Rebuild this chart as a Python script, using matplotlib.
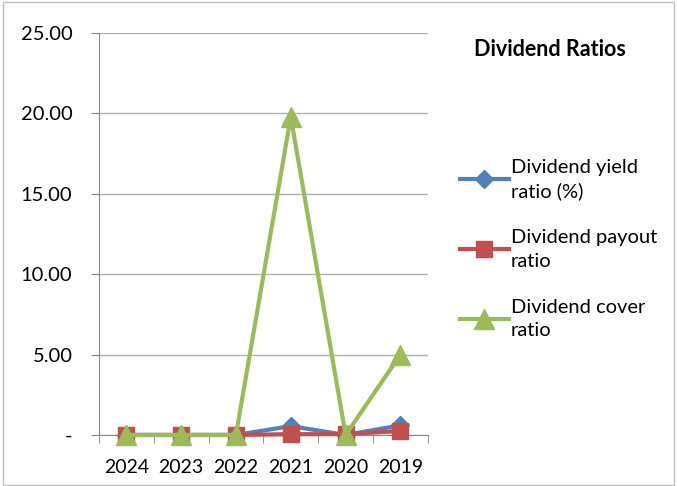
import matplotlib.pyplot as plt
from matplotlib.patches import Rectangle

years = ['2024', '2023', '2022', '2021', '2020', '2019']
yield_ratio = [0.0, 0.0, 0.0, 0.55, 0.0, 0.6]
payout_ratio = [0.0, 0.0, 0.0, 0.05, 0.05, 0.25]
cover_ratio = [0.0, 0.0, 0.0, 19.8, 0.0, 5.0]
y_ticks = [0, 5, 10, 15, 20, 25]
y_labels = ['-', '5.00', '10.00', '15.00', '20.00', '25.00']

plt.rcParams['font.family'] = ['Lato', 'DejaVu Sans']

fig = plt.figure(figsize=(6.77, 4.86), dpi=100)
fig.patches.append(Rectangle((0.004, 0.002), 0.992, 0.994, transform=fig.transFigure,
                             fill=False, edgecolor='#bfbfbf', linewidth=1))
ax = fig.add_axes([0.146, 0.105, 0.486, 0.827])

x = range(len(years))
ax.plot(x, yield_ratio, color='#4F81BD', marker='D', markersize=9, linewidth=3,
        label='Dividend yield\nratio (%)', clip_on=False, zorder=3)
ax.plot(x, payout_ratio, color='#C0504D', marker='s', markersize=11, linewidth=3,
        label='Dividend payout\nratio', clip_on=False, zorder=4)
ax.plot(x, cover_ratio, color='#9BBB59', marker='^', markersize=14, linewidth=3,
        label='Dividend cover\nratio', clip_on=False, zorder=5)

ax.set_xlim(-0.5, 5.5)
ax.set_ylim(0, 25)
ax.set_yticks(y_ticks)
ax.set_yticklabels(y_labels)
ax.set_xticks(list(x))
ax.set_xticklabels(years)
ax.set_xticks([i - 0.5 for i in range(len(years) + 1)], minor=True)
ax.tick_params(axis='x', which='major', length=0, labelsize=14, pad=17)
ax.tick_params(axis='x', which='minor', length=6, color='#868686')
ax.tick_params(axis='y', length=6, color='#868686', labelsize=14.5, pad=13)
ax.yaxis.grid(True, color='#b0b0b0', linewidth=1)
ax.set_axisbelow(True)
for s in ['top', 'right']:
    ax.spines[s].set_visible(False)
for s in ['left', 'bottom']:
    ax.spines[s].set_color('#868686')

fig.text(0.812, 0.885, 'Dividend Ratios', fontsize=15.5, fontweight='bold', ha='center')
leg = fig.legend(loc='center left', bbox_to_anchor=(0.652, 0.488), frameon=False,
                 fontsize=14.5, handlelength=2.45, labelspacing=1.45, handletextpad=0.1)
for t in leg.get_texts():
    t.set_linespacing(1.45)

plt.savefig('out.png', dpi=100)
